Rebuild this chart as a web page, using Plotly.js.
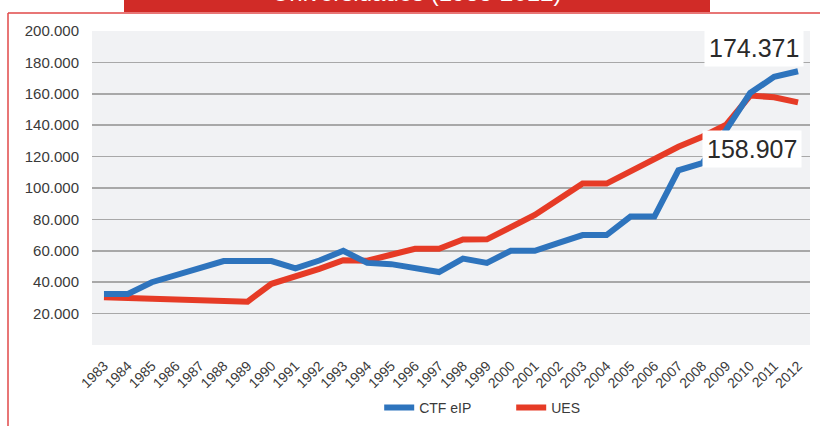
<!DOCTYPE html>
<html>
<head>
<meta charset="utf-8">
<script src="https://cdn.plot.ly/plotly-3.0.1.min.js"></script>
<style>html,body{margin:0;padding:0;background:#fff;}#chart{width:820px;height:426px;}</style>
</head>
<body>
<div id="chart"></div>
<script>
var years = ["1983","1984","1985","1986","1987","1988","1989","1990","1991","1992","1993","1994","1995","1996","1997","1998","1999","2000","2001","2002","2003","2004","2005","2006","2007","2008","2009","2010","2011","2012"];
var ctfSeries = [32500,32500,40000,44500,48800,53500,53500,53500,48800,53800,60000,52300,51500,49000,46500,55000,52300,60000,60000,65000,70000,70000,81800,81800,111300,115800,137000,160500,170800,174371];
var uesSeries = [30400,30000,29500,29000,28500,28000,27600,39000,43500,48500,54000,53700,57500,61300,61300,67200,67300,75000,82800,92800,102800,102800,110500,118300,126300,132700,140300,158907,157800,154500];
var yTickVals = [0,20000,40000,60000,80000,100000,120000,140000,160000,180000,200000];
var yTickText = ["","20.000","40.000","60.000","80.000","100.000","120.000","140.000","160.000","180.000","200.000"];
var titleText = "Universidades (1983-2012)";
var labelTop = "174.371";
var labelMid = "158.907";

var traces = [
  {x: years, y: uesSeries, name: "UES", type: "scatter", mode: "lines",
   line: {color: "#e63b26", width: 6}, legendrank: 2},
  {x: years, y: ctfSeries, name: "CTF eIP", type: "scatter", mode: "lines",
   line: {color: "#2e74bd", width: 6}, legendrank: 1}
];

var layout = {
  width: 820, height: 426,
  margin: {l: 92, r: 10, t: 31, b: 81, autoexpand: false},
  paper_bgcolor: "#ffffff",
  plot_bgcolor: "#f1f2f4",
  font: {family: "Liberation Sans, Arial, sans-serif", color: "#3a3a3a", size: 14},
  showlegend: true,
  legend: {orientation: "h", x: 0.4, xanchor: "left", y: -0.2, yanchor: "middle",
           font: {size: 14, color: "#3a3a3a"}, entrywidth: 87, entrywidthmode: "pixels",
           bgcolor: "rgba(0,0,0,0)"},
  xaxis: {type: "category", range: [-0.5, 29.5], tickangle: -45, showgrid: false,
          zeroline: false, showline: false, ticks: "", ticklabelstandoff: 9,
          tickfont: {size: 14, color: "#3a3a3a"}, fixedrange: true, automargin: false},
  yaxis: {range: [0, 200000], tickvals: yTickVals, ticktext: yTickText,
          showgrid: true, gridcolor: "#a8a8a8", gridwidth: 1.5,
          zeroline: false, showline: false, ticks: "", ticklabelstandoff: 12,
          tickfont: {size: 15, color: "#3a3a3a"}, fixedrange: true, automargin: false},
  shapes: [
    {type: "rect", xref: "paper", yref: "paper", x0: (124-92)/718, x1: (710-92)/718,
     y0: (345-12)/314, y1: (345+5)/314, fillcolor: "#d12b27", line: {width: 0}, layer: "below"},
    {type: "line", xref: "paper", yref: "paper", x0: (8-92)/718, x1: (830-92)/718,
     y0: (345-13)/314, y1: (345-13)/314, line: {color: "#e04848", width: 1.5}},
    {type: "line", xref: "paper", yref: "paper", x0: (8-92)/718, x1: (8-92)/718,
     y0: (345-13)/314, y1: (345-440)/314, line: {color: "#e04848", width: 1.5}}
  ],
  annotations: [
    {xref: "paper", yref: "paper", x: (417-92)/718, y: (345-8)/314, yanchor: "bottom", xanchor: "center",
     text: titleText, showarrow: false, font: {size: 24, color: "#ffffff"}},
    {xref: "paper", yref: "paper", x: (754-92)/718, y: (345-48)/314, xanchor: "center", yanchor: "middle",
     text: labelTop, showarrow: false, bgcolor: "#ffffff", borderpad: 4,
     font: {size: 25, color: "#2a2a2a"}},
    {xref: "paper", yref: "paper", x: (752-92)/718, y: (345-148.5)/314, xanchor: "center", yanchor: "middle",
     text: labelMid, showarrow: false, bgcolor: "#ffffff", borderpad: 4,
     font: {size: 25, color: "#2a2a2a"}}
  ]
};

Plotly.newPlot("chart", traces, layout, {displayModeBar: false, staticPlot: true});
</script>
</body>
</html>
